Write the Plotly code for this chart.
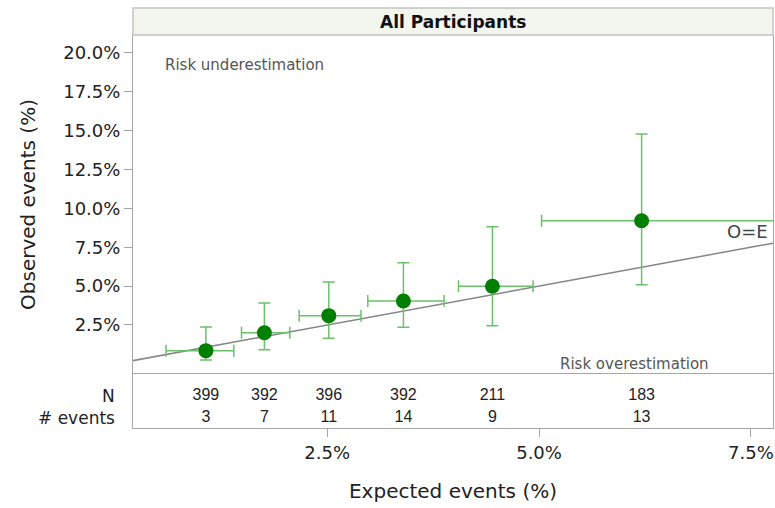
import plotly.graph_objects as go

# ---- data (percent) ----
expected = [1.07, 1.76, 2.52, 3.40, 4.45, 6.21]
observed = [0.85, 2.00, 3.10, 4.04, 4.99, 9.20]
exp_lo = [0.60, 1.49, 2.17, 2.98, 4.05, 5.03]
exp_hi = [1.40, 2.06, 2.90, 3.88, 4.93, 8.60]
obs_lo = [0.25, 0.91, 1.65, 2.35, 2.45, 5.09]
obs_hi = [2.37, 3.91, 5.26, 6.50, 8.82, 14.77]
n_counts = [399, 392, 396, 392, 211, 183]
n_events = [3, 7, 11, 14, 9, 13]
y_ticks = [2.5, 5.0, 7.5, 10.0, 12.5, 15.0, 17.5, 20.0]
x_ticks = [2.5, 5.0, 7.5]
ref_line = [0.0, 10.0]

FONT = "DejaVu Sans"
TFONT = "Liberation Sans"
GRID = "#a6a6a6"
W, H = 775, 508
ML, MR, MT, MB = 133, 2, 35, 80
plot_h = H - MT - MB
table_px = 54
split = table_px / plot_h

fig = go.Figure()

# O=E reference line
fig.add_trace(go.Scatter(x=ref_line, y=ref_line, mode="lines",
                         line=dict(color="#858585", width=1.5),
                         hoverinfo="skip", showlegend=False,
                         xaxis="x", yaxis="y"))

# points with error bars
fig.add_trace(go.Scatter(
    x=expected, y=observed, mode="markers",
    marker=dict(color="#007f00", size=15),
    error_x=dict(type="data", symmetric=False,
                 array=[h - e for h, e in zip(exp_hi, expected)],
                 arrayminus=[e - l for l, e in zip(exp_lo, expected)],
                 color="#6cc06c", thickness=1.5, width=6),
    error_y=dict(type="data", symmetric=False,
                 array=[h - o for h, o in zip(obs_hi, observed)],
                 arrayminus=[o - l for l, o in zip(obs_lo, observed)],
                 color="#6cc06c", thickness=1.5, width=6),
    showlegend=False, xaxis="x", yaxis="y"))

# table rows
fig.add_trace(go.Scatter(x=expected, y=[0.6] * len(expected), mode="text",
                         text=[str(v) for v in n_counts],
                         textfont=dict(family=TFONT, size=16, color="#222"),
                         showlegend=False, xaxis="x", yaxis="y2",
                         cliponaxis=False))
fig.add_trace(go.Scatter(x=expected, y=[0.18] * len(expected), mode="text",
                         text=[str(v) for v in n_events],
                         textfont=dict(family=TFONT, size=16, color="#222"),
                         showlegend=False, xaxis="x", yaxis="y2",
                         cliponaxis=False))

fig.update_layout(
    width=W, height=H,
    margin=dict(l=ML, r=MR, t=MT, b=MB),
    plot_bgcolor="white", paper_bgcolor="white",
    font=dict(family=FONT, color="#222"),
    xaxis=dict(range=[0.21, 7.76], anchor="y2",
               tickvals=x_ticks, ticktext=[f"{v:.1f}%" for v in x_ticks],
               ticks="outside", ticklen=8, tickcolor=GRID,
               tickfont=dict(size=18, color="#222"),
               showgrid=False, zeroline=False,
               showline=True, linecolor=GRID, mirror=True,
               title=dict(text="Expected events (%)", font=dict(size=20), standoff=22)),
    yaxis=dict(domain=[split, 1], range=[-0.65, 21.14],
               tickvals=y_ticks, ticktext=[f"{v:.1f}%" for v in y_ticks],
               ticks="outside", ticklen=8, tickcolor=GRID,
               tickfont=dict(size=18, color="#222"),
               showgrid=False, zeroline=False,
               showline=True, linecolor=GRID, mirror=True,
               title=dict(text="Observed events (%)", font=dict(size=20), standoff=22)),
    yaxis2=dict(domain=[0, split], range=[0, 1], showticklabels=False,
                showgrid=False, zeroline=False, ticks="",
                showline=True, linecolor=GRID, mirror=True),
)

# header band
fig.add_shape(type="rect", xref="paper", yref="paper",
              x0=0, x1=1, y0=1, y1=1 + 27 / plot_h,
              fillcolor="#f3f5ef", line=dict(color="#c4c4c4", width=1.5))
fig.add_annotation(xref="paper", yref="paper", x=0.5, y=1 + 13.5 / plot_h,
                   text="<b>All Participants</b>", showarrow=False,
                   font=dict(size=17, color="#111"), yanchor="middle")

# in-plot labels
fig.add_annotation(x=0.56, y=19.2, xref="x", yref="y", text="Risk underestimation",
                   showarrow=False, xanchor="left", yanchor="middle",
                   font=dict(size=15, color="#555"))
fig.add_annotation(x=6.13, y=0.0, xref="x", yref="y", text="Risk overestimation",
                   showarrow=False, xanchor="center", yanchor="middle",
                   font=dict(size=15, color="#555"))
fig.add_annotation(x=7.72, y=8.5, xref="x", yref="y", text="O=E",
                   showarrow=False, xanchor="right", yanchor="middle",
                   font=dict(size=18, color="#444"))

# row labels
fig.add_annotation(xref="paper", x=0, xshift=-16, yref="y2", y=0.6, text="N",
                   showarrow=False, xanchor="right", yanchor="middle",
                   font=dict(size=17, color="#222"))
fig.add_annotation(xref="paper", x=0, xshift=-16, yref="y2", y=0.18, text="# events",
                   showarrow=False, xanchor="right", yanchor="middle",
                   font=dict(size=17, color="#222"))

fig.write_html("out.html")
